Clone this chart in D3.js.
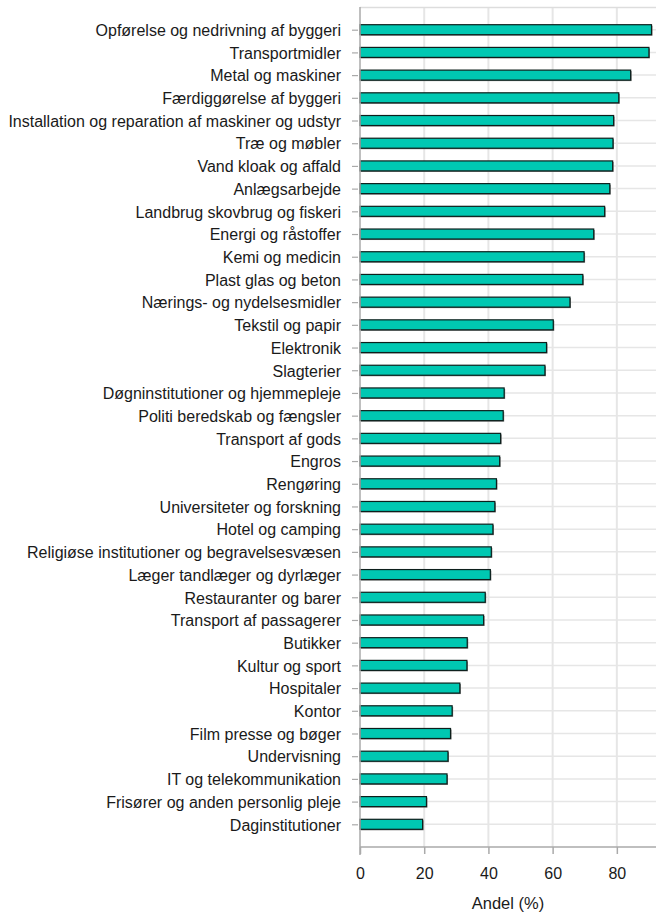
<!DOCTYPE html>
<html>
<head>
<meta charset="utf-8">
<script src="https://cdn.jsdelivr.net/npm/d3@7"></script>
<style>
  html, body { margin: 0; padding: 0; background: #fff; }
  svg { display: block; font-family: "Liberation Sans", Arial, sans-serif; }
</style>
</head>
<body>
<svg id="chart" width="656" height="914"></svg>
<script>
// Share (%) by industry group, listed top to bottom
const categories = [
  "Opførelse og nedrivning af byggeri",
  "Transportmidler",
  "Metal og maskiner",
  "Færdiggørelse af byggeri",
  "Installation og reparation af maskiner og udstyr",
  "Træ og møbler",
  "Vand kloak og affald",
  "Anlægsarbejde",
  "Landbrug skovbrug og fiskeri",
  "Energi og råstoffer",
  "Kemi og medicin",
  "Plast glas og beton",
  "Nærings- og nydelsesmidler",
  "Tekstil og papir",
  "Elektronik",
  "Slagterier",
  "Døgninstitutioner og hjemmepleje",
  "Politi beredskab og fængsler",
  "Transport af gods",
  "Engros",
  "Rengøring",
  "Universiteter og forskning",
  "Hotel og camping",
  "Religiøse institutioner og begravelsesvæsen",
  "Læger tandlæger og dyrlæger",
  "Restauranter og barer",
  "Transport af passagerer",
  "Butikker",
  "Kultur og sport",
  "Hospitaler",
  "Kontor",
  "Film presse og bøger",
  "Undervisning",
  "IT og telekommunikation",
  "Frisører og anden personlig pleje",
  "Daginstitutioner"
];
const values = [
  90.8, 90.0, 84.3, 80.6, 79.0, 78.8, 78.7, 77.8, 76.2, 72.8,
  69.8, 69.4, 65.4, 60.2, 58.1, 57.6, 44.9, 44.6, 43.8, 43.5,
  42.5, 42.0, 41.4, 40.9, 40.6, 39.0, 38.5, 33.4, 33.3, 31.1,
  28.7, 28.2, 27.4, 27.1, 20.7, 19.5
];
const xTicks = [0, 20, 40, 60, 80];
const xTitle = "Andel (%)";

const svg = d3.select("#chart");
const plotLeft = 360, plotRight = 656, plotTop = 7, plotBottom = 847;

const x = d3.scaleLinear().domain([0, 92.2]).range([plotLeft, plotRight]);
const y = d3.scalePoint().domain(categories).range([plotTop, plotBottom]).padding(1);
const barH = 10;

const gridColor = "#e6e6e6";
const axisColor = "#aaaaaa";

// grid
const grid = svg.append("g");
grid.selectAll("line.vg").data(xTicks.filter(d => d > 0)).join("line")
  .attr("x1", d => x(d)).attr("x2", d => x(d))
  .attr("y1", plotTop).attr("y2", plotBottom)
  .attr("stroke", gridColor).attr("stroke-width", 2);
grid.selectAll("line.hg").data(categories).join("line")
  .attr("x1", plotLeft).attr("x2", plotRight)
  .attr("y1", d => y(d)).attr("y2", d => y(d))
  .attr("stroke", gridColor).attr("stroke-width", 1.5);
grid.append("line")
  .attr("x1", plotLeft).attr("x2", plotRight)
  .attr("y1", plotTop + 0.5).attr("y2", plotTop + 0.5)
  .attr("stroke", "#dddddd").attr("stroke-width", 1.5);

// bars: soft shadow then outlined bar
const rows = categories.map((c, i) => ({ c, v: values[i] }));
svg.append("g").selectAll("rect").data(rows).join("rect")
  .attr("x", x(0) + 1)
  .attr("y", d => y(d.c) - barH / 2 + 1)
  .attr("width", d => x(d.v) - x(0))
  .attr("height", barH)
  .attr("fill", "#777");
svg.append("g").selectAll("rect").data(rows).join("rect")
  .attr("x", x(0))
  .attr("y", d => y(d.c) - barH / 2)
  .attr("width", d => x(d.v) - x(0))
  .attr("height", barH)
  .attr("fill", "#00c8b2")
  .attr("stroke", "#0d1f1c")
  .attr("stroke-width", 1.2);

// y axis
const yAxis = svg.append("g").attr("transform", `translate(${plotLeft},0)`)
  .call(d3.axisLeft(y).tickSize(7).tickPadding(12));
yAxis.select(".domain").attr("stroke", axisColor).attr("stroke-width", 1.5)
  .attr("d", `M0,${plotTop}V${plotBottom + 8}`);
yAxis.selectAll(".tick line").attr("stroke", axisColor).attr("stroke-width", 1.2)
  .attr("x1", -2).attr("x2", -8);
yAxis.selectAll(".tick text").attr("fill", "#1a1a1a")
  .style("font-size", "16px").attr("x", -19).attr("dy", "0.36em");

// x axis
const xAxis = svg.append("g").attr("transform", `translate(0,${plotBottom})`)
  .call(d3.axisBottom(x).tickValues(xTicks).tickSize(7).tickPadding(14));
xAxis.select(".domain").attr("stroke", axisColor).attr("stroke-width", 1.5)
  .attr("d", `M${plotLeft},0H${plotRight}`);
xAxis.selectAll(".tick line").attr("stroke", axisColor).attr("stroke-width", 1.5);
xAxis.selectAll(".tick text").attr("fill", "#1a1a1a").style("font-size", "16px");

svg.append("text")
  .attr("x", (plotLeft + plotRight) / 2).attr("y", 909)
  .attr("text-anchor", "middle")
  .attr("fill", "#1a1a1a")
  .style("font-size", "16.5px")
  .text(xTitle);
</script>
</body>
</html>
